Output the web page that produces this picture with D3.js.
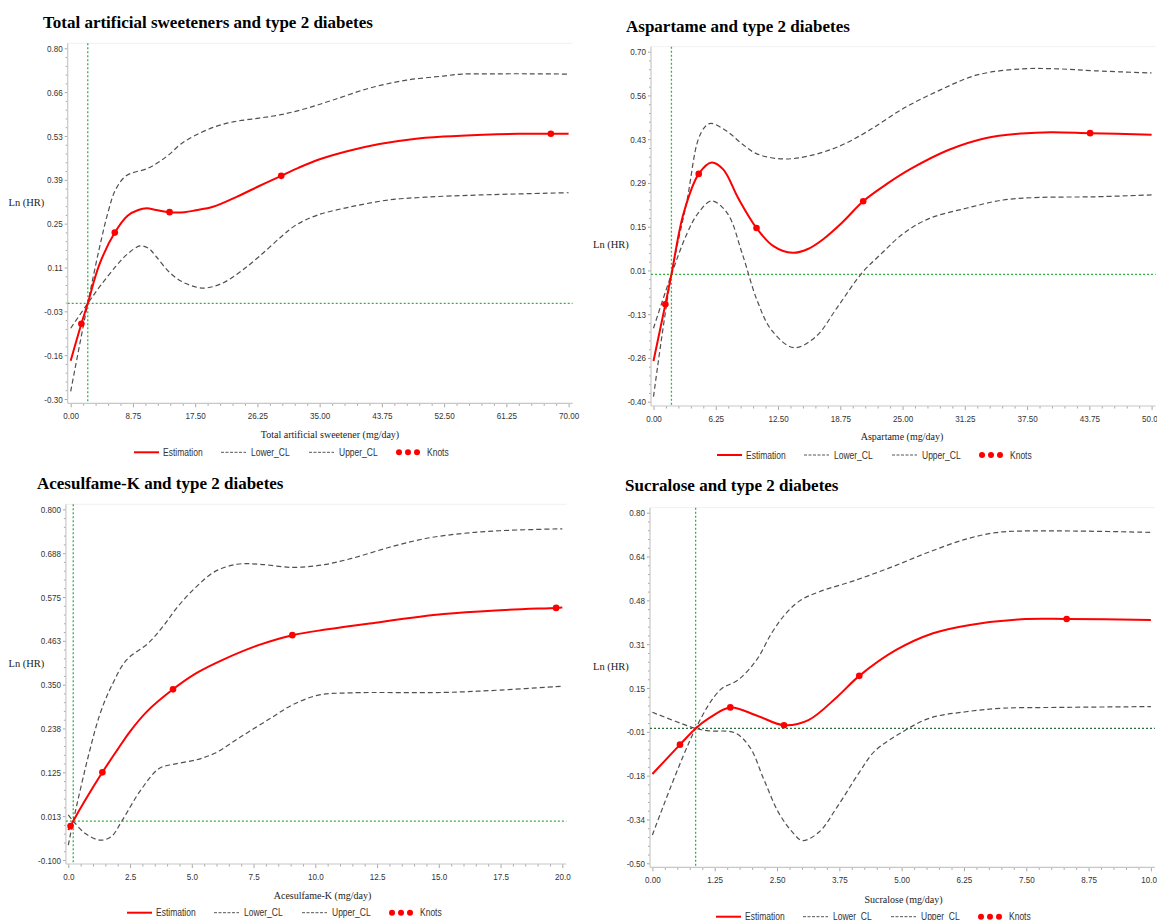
<!DOCTYPE html>
<html><head><meta charset="utf-8">
<script src="https://cdn.jsdelivr.net/npm/d3@7"></script>
<style>body{margin:0;background:#fff}</style>
</head><body><svg id="c" width="1157" height="920"></svg>
<script>
// ---------- DATA ----------
// Panel 1: Total artificial sweeteners
const tasTitle = "Total artificial sweeteners and type 2 diabetes";
const tasXTitle = "Total artificial sweetener (mg/day)";
const tasXTicks = [0, 8.75, 17.5, 26.25, 35, 43.75, 52.5, 61.25, 70];
const tasXLabels = ["0.00","8.75","17.50","26.25","35.00","43.75","52.50","61.25","70.00"];
const tasYTicks = [-0.30, -0.1625, -0.025, 0.1125, 0.25, 0.3875, 0.525, 0.6625, 0.80];
const tasYLabels = ["-0.30","-0.16","-0.03","0.11","0.25","0.39","0.53","0.66","0.80"];
const tasRef = 2.4;
const tasEstimation = [[0,-0.18],[1.5,-0.064],[2.4,0],[4,0.12],[6.2,0.222],[8,0.275],[9.5,0.293],[10.7,0.298],[12,0.293],[13.9,0.286],[16,0.286],[17.6,0.292],[20,0.303],[23.4,0.335],[26.5,0.368],[29.6,0.40],[32,0.425],[35,0.452],[39,0.478],[43.4,0.50],[48,0.515],[52.4,0.523],[58,0.529],[63,0.532],[67.5,0.532],[70,0.532]];
const tasUpper = [[0,-0.276],[2.4,0],[4,0.17],[5.3,0.29],[6.3,0.356],[7.8,0.40],[10.9,0.424],[12.5,0.445],[13.9,0.468],[15.5,0.50],[17.6,0.528],[20.3,0.554],[23,0.57],[26.5,0.581],[29.8,0.593],[33.2,0.612],[36.9,0.638],[42,0.675],[47.2,0.70],[52.4,0.713],[55,0.719],[60,0.72],[65,0.72],[70,0.719]];
const tasLower = [[0,-0.078],[2.4,0],[4,0.05],[6.3,0.115],[8,0.155],[9.75,0.18],[11,0.172],[12,0.147],[14,0.095],[16.1,0.063],[18.7,0.048],[21.3,0.063],[23.9,0.10],[26.5,0.147],[29.6,0.209],[31.7,0.246],[34.7,0.277],[39.4,0.303],[44.6,0.324],[49.8,0.333],[57.6,0.34],[70,0.347]];
const tasKnots = [[1.5,-0.064],[6.2,0.222],[13.9,0.286],[29.6,0.40],[67.5,0.532]];

// Panel 2: Aspartame
const aspTitle = "Aspartame and type 2 diabetes";
const aspXTitle = "Aspartame (mg/day)";
const aspXTicks = [0, 6.25, 12.5, 18.75, 25, 31.25, 37.5, 43.75, 50];
const aspXLabels = ["0.00","6.25","12.50","18.75","25.00","31.25","37.50","43.75","50.00"];
const aspYTicks = [-0.40, -0.2625, -0.125, 0.0125, 0.15, 0.2875, 0.425, 0.5625, 0.70];
const aspYLabels = ["-0.40","-0.26","-0.13","0.01","0.15","0.29","0.43","0.56","0.70"];
const aspRef = 1.8;
const aspEstimation = [[0,-0.272],[1.19,-0.094],[1.8,0],[3,0.19],[4.54,0.316],[5.84,0.352],[7,0.33],[8.5,0.24],[10.34,0.146],[12,0.09],[13.96,0.068],[15.5,0.08],[17,0.11],[19,0.165],[21.05,0.230],[23.5,0.286],[25.9,0.333],[29.6,0.391],[33.3,0.428],[37,0.443],[39.9,0.447],[43.83,0.444],[50,0.439]];
const aspUpper = [[0,-0.384],[1.8,0],[3.37,0.234],[4.47,0.422],[5.2,0.465],[5.76,0.475],[7.42,0.449],[8.9,0.41],[10.38,0.379],[12.96,0.363],[15.55,0.372],[18.5,0.401],[21.45,0.449],[25.1,0.522],[28.8,0.580],[32.5,0.627],[37,0.646],[40.6,0.646],[44.3,0.64],[50,0.633]];
const aspLower = [[0,-0.169],[1.8,0],[3.37,0.129],[4.47,0.192],[5.84,0.231],[7.42,0.192],[8.9,0.066],[10.38,-0.080],[11.85,-0.175],[14.07,-0.230],[16.28,-0.196],[18.5,-0.101],[20.9,0.0035],[22.9,0.066],[25.1,0.129],[27.7,0.176],[31.4,0.208],[35.1,0.234],[38.8,0.242],[44.3,0.244],[50,0.250]];
const aspKnots = [[1.19,-0.094],[4.54,0.316],[10.34,0.146],[21.05,0.230],[43.83,0.444]];

// Panel 3: Acesulfame-K
const aceTitle = "Acesulfame-K and type 2 diabetes";
const aceXTitle = "Acesulfame-K (mg/day)";
const aceXTicks = [0, 2.5, 5, 7.5, 10, 12.5, 15, 17.5, 20];
const aceXLabels = ["0.0","2.5","5.0","7.5","10.0","12.5","15.0","17.5","20.0"];
const aceYTicks = [-0.1, 0.0125, 0.125, 0.2375, 0.35, 0.4625, 0.575, 0.6875, 0.8];
const aceYLabels = ["-0.100","0.013","0.125","0.238","0.350","0.463","0.575","0.688","0.800"];
const aceRef = 0.2;
const aceEstimation = [[0,-0.023],[0.09,-0.013],[0.2,0],[0.7,0.055],[1.38,0.125],[2,0.184],[2.49,0.229],[3.2,0.282],[4.24,0.338],[5.2,0.38],[6.23,0.413],[7.73,0.452],[9.07,0.477],[10.5,0.492],[12.2,0.507],[15.2,0.531],[17.5,0.541],[19.75,0.547],[20,0.548]];
const aceUpper = [[0,-0.062],[0.2,0],[0.84,0.174],[1.29,0.276],[1.74,0.345],[2.35,0.413],[3.23,0.456],[3.83,0.499],[4.43,0.55],[5.18,0.601],[5.93,0.64],[6.83,0.659],[7.73,0.659],[9.07,0.651],[10.27,0.657],[11.47,0.674],[12.97,0.702],[14.46,0.725],[15.96,0.738],[17.46,0.745],[20,0.75]];
const aceLower = [[0,0.016],[0.2,0],[0.69,-0.032],[1.29,-0.049],[1.74,-0.04],[2.19,0.0025],[2.94,0.08],[3.68,0.135],[4.28,0.146],[5.18,0.157],[5.93,0.174],[6.98,0.216],[8.17,0.263],[9.07,0.298],[10.12,0.323],[11.47,0.329],[15.2,0.33],[17.46,0.336],[20,0.346]];
const aceKnots = [[0.09,-0.013],[1.38,0.125],[4.24,0.338],[9.07,0.477],[19.75,0.547]];

// Panel 4: Sucralose
const sucTitle = "Sucralose and type 2 diabetes";
const sucXTitle = "Sucralose (mg/day)";
const sucXTicks = [0, 1.25, 2.5, 3.75, 5, 6.25, 7.5, 8.75, 10];
const sucXLabels = ["0.00","1.25","2.50","3.75","5.00","6.25","7.50","8.75","10.00"];
const sucYTicks = [-0.5, -0.3375, -0.175, -0.0125, 0.15, 0.3125, 0.475, 0.6375, 0.8];
const sucYLabels = ["-0.50","-0.34","-0.18","-0.01","0.15","0.31","0.48","0.64","0.80"];
const sucRef = 0.867;
const sucEstimation = [[0,-0.169],[0.553,-0.060],[0.867,0],[1.136,0.038],[1.563,0.078],[2.09,0.048],[2.64,0.012],[3.13,0.031],[3.71,0.118],[4.15,0.195],[4.89,0.291],[5.63,0.353],[6.37,0.384],[7.4,0.405],[8.31,0.406],[10,0.402]];
const sucUpper = [[0,-0.395],[0.867,0],[1.36,0.143],[1.72,0.18],[2.09,0.254],[2.39,0.353],[2.68,0.427],[2.98,0.476],[3.35,0.507],[4.08,0.55],[4.82,0.60],[5.56,0.655],[6.29,0.702],[6.88,0.726],[7.4,0.732],[8.5,0.732],[10,0.727]];
const sucLower = [[0,0.060],[0.867,0],[1.136,-0.009],[1.65,-0.016],[1.95,-0.068],[2.24,-0.191],[2.54,-0.315],[2.83,-0.389],[3.01,-0.416],[3.35,-0.383],[3.71,-0.29],[4.16,-0.16],[4.45,-0.086],[4.97,-0.018],[5.56,0.038],[6.29,0.062],[7.03,0.075],[8.13,0.078],[10,0.081]];
const sucKnots = [[0.553,-0.060],[1.563,0.078],[2.64,0.012],[4.15,0.195],[8.31,0.406]];

const yTitle = "Ln (HR)";
const legendLabels = ["Estimation","Lower_CL","Upper_CL","Knots"];

// ---------- DRAWING ----------
const svg = d3.select('#c');
const SANS = '"Liberation Sans", Arial, sans-serif';
const SERIF = '"Liberation Serif", "Times New Roman", serif';
const SX = 0.85;
const GREEN = '#2fb344';

function minors(t) {
  const out = [];
  for (let i = 0; i < t.length - 1; i++)
    for (let k = 1; k < 5; k++) out.push(t[i] + (t[i+1] - t[i]) * k / 5);
  return out;
}

function panel(c) {
  const g = svg.append('g');
  const x = d3.scaleLinear().domain([c.xTicks[0], c.xTicks[c.xTicks.length-1]]).range([c.x0, c.x1]);
  const y = d3.scaleLinear().domain([c.yTicks[0], c.yTicks[c.yTicks.length-1]]).range([c.yBot, c.yTop]);
  const top = c.yTop - 5, right = c.x1 + 4;

  g.append('line').attr('x1', c.axX).attr('x2', right).attr('y1', top).attr('y2', top)
    .attr('stroke', '#f1f1f1');

  const gx = g.append('g').attr('transform', `translate(0,${c.axY})`)
    .call(d3.axisBottom(x).tickValues(c.xTicks).tickFormat((d, i) => c.xLabels[i]).tickSize(4).tickPadding(5));
  const gxm = g.append('g').attr('transform', `translate(0,${c.axY})`)
    .call(d3.axisBottom(x).tickValues(minors(c.xTicks)).tickFormat('').tickSize(2.5));
  const gy = g.append('g').attr('transform', `translate(${c.axX},0)`)
    .call(d3.axisLeft(y).tickValues(c.yTicks).tickFormat((d, i) => c.yLabels[i]).tickSize(3).tickPadding(2));
  const gym = g.append('g').attr('transform', `translate(${c.axX},0)`)
    .call(d3.axisLeft(y).tickValues(minors(c.yTicks)).tickFormat('').tickSize(2));
  [gx, gxm, gy, gym].forEach(a => {
    a.select('.domain').remove();
    a.selectAll('line').attr('stroke', '#a8a8a8');
  });
  gx.selectAll('text').attr('font-family', SANS).attr('font-size', 9.5).attr('fill', '#333')
    .attr('transform', `scale(${SX},1)`);
  gy.selectAll('text').attr('font-family', SANS).attr('font-size', 9.5).attr('fill', '#333')
    .each(function() {
      const t = d3.select(this);
      t.attr('x', +t.attr('x') / SX).attr('transform', `scale(${SX},1)`);
    });
  g.append('line').attr('x1', c.axX).attr('x2', c.axX).attr('y1', top).attr('y2', c.axY)
    .attr('stroke', '#c8c8c8').attr('stroke-width', 1.2);
  g.append('line').attr('x1', c.axX).attr('x2', right).attr('y1', c.axY).attr('y2', c.axY)
    .attr('stroke', '#c8c8c8').attr('stroke-width', 1.2);

  g.append('line').attr('x1', x(c.ref)).attr('x2', x(c.ref)).attr('y1', top).attr('y2', c.axY)
    .attr('stroke', GREEN).attr('stroke-width', 1.3).attr('stroke-dasharray', '2,2');
  g.append('line').attr('x1', c.axX).attr('x2', right).attr('y1', y(0)).attr('y2', y(0))
    .attr('stroke', c.hColor || GREEN).attr('stroke-width', 1.3).attr('stroke-dasharray', '2,2');

  const line = d3.line().x(d => x(d[0])).y(d => y(d[1])).curve(d3.curveCatmullRom.alpha(0.5));
  [c.lower, c.upper].forEach(s => {
    g.append('path').attr('d', line(s)).attr('fill', 'none').attr('stroke', '#505050')
      .attr('stroke-width', 1.2).attr('stroke-dasharray', '5,3');
  });
  g.append('path').attr('d', line(c.est)).attr('fill', 'none').attr('stroke', '#ff0000')
    .attr('stroke-width', 2);
  g.selectAll('circle.k').data(c.knots).enter().append('circle')
    .attr('cx', d => x(d[0])).attr('cy', d => y(d[1])).attr('r', 3.3).attr('fill', '#ff0000');

  g.append('text').attr('x', c.tx).attr('y', c.ty).attr('font-family', SERIF).attr('font-weight', 'bold')
    .attr('font-size', 17).attr('fill', '#000').text(c.title);
  g.append('text').attr('x', c.ylx).attr('y', c.yly).attr('font-family', SERIF)
    .attr('font-size', 10.5).attr('fill', '#222').text(yTitle);
  g.append('text').attr('x', c.xlx).attr('y', c.xly).attr('text-anchor', 'middle').attr('font-family', SERIF)
    .attr('font-size', 10).attr('fill', '#222').text(c.xTitle);

  const L = g.append('g').attr('transform', `translate(${c.lgx},${c.lgy})`);
  L.append('line').attr('x1', 0).attr('x2', 25).attr('stroke', '#ff0000').attr('stroke-width', 2);
  L.append('line').attr('x1', 87).attr('x2', 112).attr('stroke', '#555').attr('stroke-width', 1).attr('stroke-dasharray', '3,1.5');
  L.append('line').attr('x1', 175).attr('x2', 200).attr('stroke', '#555').attr('stroke-width', 1).attr('stroke-dasharray', '3,1.5');
  [265, 274, 283].forEach(cx => L.append('circle').attr('cx', cx).attr('cy', 0).attr('r', 3).attr('fill', '#ff0000'));
  [29, 117, 205, 293].forEach((tx, i) => {
    L.append('text').attr('transform', `translate(${tx},3.5) scale(${SX},1)`)
      .attr('font-family', SANS).attr('font-size', 10).attr('fill', '#333').text(legendLabels[i]);
  });
}

panel({title: tasTitle, xTitle: tasXTitle, xTicks: tasXTicks, xLabels: tasXLabels, yTicks: tasYTicks, yLabels: tasYLabels,
  ref: tasRef, est: tasEstimation, upper: tasUpper, lower: tasLower, knots: tasKnots,
  x0: 70.7, x1: 568.6, yTop: 48.3, yBot: 399, axX: 67.7, axY: 403.3,
  tx: 43, ty: 27.7, ylx: 8.5, yly: 205.5, xlx: 330, xly: 437.5, lgx: 134, lgy: 452.3});

panel({title: aspTitle, xTitle: aspXTitle, xTicks: aspXTicks, xLabels: aspXLabels, yTicks: aspYTicks, yLabels: aspYLabels,
  ref: aspRef, est: aspEstimation, upper: aspUpper, lower: aspLower, knots: aspKnots,
  x0: 653.5, x1: 1151.6, yTop: 51.7, yBot: 401.7, axX: 651, axY: 406,
  tx: 626, ty: 31.7, ylx: 593, yly: 248, xlx: 902, xly: 440, lgx: 717, lgy: 455});

panel({title: aceTitle, xTitle: aceXTitle, xTicks: aceXTicks, xLabels: aceXLabels, yTicks: aceYTicks, yLabels: aceYLabels,
  ref: aceRef, est: aceEstimation, upper: aceUpper, lower: aceLower, knots: aceKnots,
  x0: 68.3, x1: 562.3, yTop: 509.3, yBot: 860, axX: 65.9, axY: 864,
  tx: 37, ty: 489.3, ylx: 8.5, yly: 667, xlx: 322.5, xly: 898.5, lgx: 127, lgy: 912.7});

panel({title: sucTitle, xTitle: sucXTitle, xTicks: sucXTicks, xLabels: sucXLabels, yTicks: sucYTicks, yLabels: sucYLabels,
  ref: sucRef, est: sucEstimation, upper: sucUpper, lower: sucLower, knots: sucKnots, hColor: '#2d6b3a',
  x0: 652.4, x1: 1150.9, yTop: 512.7, yBot: 863.3, axX: 650, axY: 867.3,
  tx: 625, ty: 491, ylx: 593, yly: 670, xlx: 903.5, xly: 903, lgx: 716, lgy: 916.7});
</script>
</body></html>
